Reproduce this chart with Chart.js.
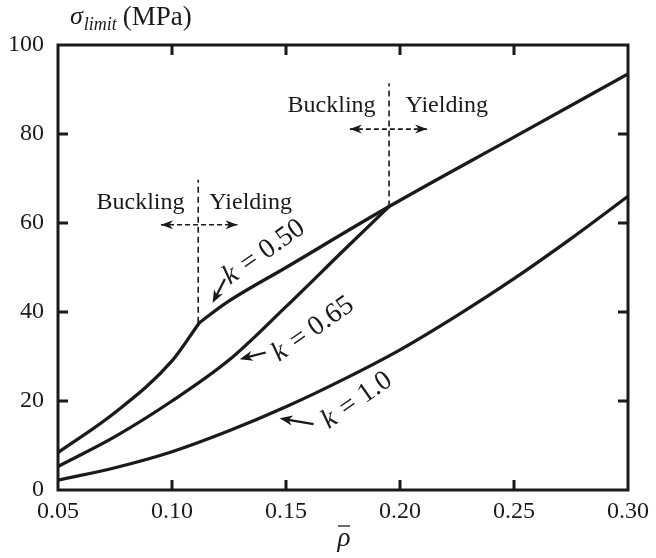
<!DOCTYPE html>
<html>
<head>
<meta charset="utf-8">
<script src="https://cdn.jsdelivr.net/npm/chart.js@4.4.1/dist/chart.umd.min.js"></script>
<style>
  html, body { margin: 0; padding: 0; background: #fff; }
  #wrap { width: 656px; height: 558px; }
</style>
</head>
<body>
<div id="wrap"><canvas id="c" width="656" height="558"></canvas></div>
<script>
// x = relative density (rho bar), y = limit stress (MPa)
var RHO_K050_BUCK = [0.05, 0.075, 0.10, 0.112];
var SIG_K050_BUCK = [8.4, 17.4, 29.0, 37.6];

var RHO_YIELD = [0.112, 0.1236, 0.15, 0.1952, 0.25, 0.30];
var SIG_YIELD = [37.6, 42.0, 50.0, 63.7, 79.3, 93.5];

var RHO_K065 = [0.05, 0.075, 0.10, 0.125, 0.15, 0.175, 0.1952];
var SIG_K065 = [5.3, 12.0, 20.0, 29.2, 41.2, 53.7, 63.7];

var RHO_K100 = [0.05, 0.075, 0.10, 0.125, 0.15, 0.175, 0.20, 0.225, 0.25, 0.275, 0.30];
var SIG_K100 = [2.2, 5.0, 8.6, 13.3, 18.7, 24.8, 31.5, 39.2, 47.5, 56.5, 66.0];

// transitions buckling -> yielding (x, y from, y to)
var TRANS_X   = [0.1115, 0.1952];
var TRANS_Y0  = [37.6, 63.7];
var TRANS_Y1  = [69.7, 91.4];
// horizontal double arrows
var HARROW_Y  = [59.6, 81.1];
var HARROW_X0 = [0.0952, 0.178];
var HARROW_X1 = [0.1287, 0.2119];
// region texts
var REGION_TXT = ["Buckling", "Yielding", "Buckling", "Yielding"];
var REGION_X   = [0.0862, 0.1345, 0.170, 0.2205];
var REGION_Y   = [64.5, 64.5, 86.3, 86.3];
// curve labels and their pointer arrows
var K_LABELS = ["0.50", "0.65", "1.0"];
var K_LAB_X  = [0.1400, 0.1615, 0.1808];
var K_LAB_Y  = [53.3, 36.0, 20.0];
var K_ARR_X0 = [0.1232, 0.1411, 0.1621];
var K_ARR_Y0 = [47.4, 30.9, 14.8];
var K_ARR_X1 = [0.1178, 0.1297, 0.1472];
var K_ARR_Y1 = [42.0, 29.4, 16.1];

var X_TICKS = [0.05, 0.10, 0.15, 0.20, 0.25, 0.30];
var Y_TICKS = [0, 20, 40, 60, 80, 100];

var INK = "#1a1a1a";
var SERIF = "'Liberation Serif', 'DejaVu Serif', serif";

function pts(xs, ys){
  var out = [];
  for (var i=0;i<xs.length;i++) out.push({ x: xs[i], y: ys[i] });
  return out;
}
function curve(xs, ys){
  return {
    data: pts(xs, ys),
    borderColor: INK, borderWidth: 3.3, pointRadius: 0,
    cubicInterpolationMode: "monotone", fill: false,
    borderCapStyle: "round", borderJoinStyle: "round"
  };
}

var datasets = [
  curve(RHO_K050_BUCK, SIG_K050_BUCK),
  curve(RHO_YIELD, SIG_YIELD),
  curve(RHO_K065, SIG_K065),
  curve(RHO_K100, SIG_K100)
];
for (var t=0;t<TRANS_X.length;t++){
  datasets.push({
    data: pts([TRANS_X[t], TRANS_X[t]], [TRANS_Y0[t], TRANS_Y1[t]]),
    borderColor: INK, borderWidth: 1.6, borderDash: [6, 4], pointRadius: 0, fill: false
  });
  datasets.push({
    data: pts([HARROW_X0[t], HARROW_X1[t]], [HARROW_Y[t], HARROW_Y[t]]),
    borderColor: INK, borderWidth: 1.6, borderDash: [5, 3], pointRadius: 0, fill: false
  });
}

function arrowHead(ctx, x0, y0, x1, y1, len, half){
  var a = Math.atan2(y1 - y0, x1 - x0);
  ctx.save();
  ctx.translate(x1, y1);
  ctx.rotate(a);
  ctx.beginPath();
  ctx.moveTo(0, 0);
  ctx.lineTo(-len, -half);
  ctx.lineTo(-len*0.7, 0);
  ctx.lineTo(-len, half);
  ctx.closePath();
  ctx.fill();
  ctx.restore();
}

var decor = {
  id: "decor",
  afterDraw: function(chart){
    var ctx = chart.ctx, xs = chart.scales.x, ys = chart.scales.y, a = chart.chartArea;
    ctx.save();
    ctx.fillStyle = INK; ctx.strokeStyle = INK;

    // frame
    ctx.lineWidth = 3;
    ctx.strokeRect(a.left, a.top, a.right - a.left, a.bottom - a.top);
    // inward ticks on all sides
    var tl = 10;
    for (var i=1;i<X_TICKS.length-1;i++){
      var px = xs.getPixelForValue(X_TICKS[i]);
      ctx.beginPath();
      ctx.moveTo(px, a.bottom); ctx.lineTo(px, a.bottom - tl);
      ctx.moveTo(px, a.top); ctx.lineTo(px, a.top + tl);
      ctx.stroke();
    }
    for (var j=1;j<Y_TICKS.length-1;j++){
      var py = ys.getPixelForValue(Y_TICKS[j]);
      ctx.beginPath();
      ctx.moveTo(a.left, py); ctx.lineTo(a.left + tl, py);
      ctx.moveTo(a.right, py); ctx.lineTo(a.right - tl, py);
      ctx.stroke();
    }

    // heads of the dashed double arrows
    for (var h=0;h<HARROW_Y.length;h++){
      var hy = ys.getPixelForValue(HARROW_Y[h]);
      var hx0 = xs.getPixelForValue(HARROW_X0[h]);
      var hx1 = xs.getPixelForValue(HARROW_X1[h]);
      arrowHead(ctx, hx1, hy, hx0, hy, 12, 4.5);
      arrowHead(ctx, hx0, hy, hx1, hy, 12, 4.5);
    }

    // region texts
    ctx.font = "24px " + SERIF;
    ctx.textAlign = "center"; ctx.textBaseline = "middle";
    for (var r=0;r<REGION_TXT.length;r++){
      ctx.fillText(REGION_TXT[r], xs.getPixelForValue(REGION_X[r]), ys.getPixelForValue(REGION_Y[r]));
    }

    // curve labels (rotated) and pointer arrows
    for (var k=0;k<K_LABELS.length;k++){
      var ax0 = xs.getPixelForValue(K_ARR_X0[k]), ay0 = ys.getPixelForValue(K_ARR_Y0[k]);
      var ax1 = xs.getPixelForValue(K_ARR_X1[k]), ay1 = ys.getPixelForValue(K_ARR_Y1[k]);
      ctx.lineWidth = 2.2;
      ctx.beginPath(); ctx.moveTo(ax0, ay0);
      var ang = Math.atan2(ay1 - ay0, ax1 - ax0);
      ctx.lineTo(ax1 - 6*Math.cos(ang), ay1 - 6*Math.sin(ang));
      ctx.stroke();
      arrowHead(ctx, ax0, ay0, ax1, ay1, 13, 5);

      ctx.save();
      ctx.translate(xs.getPixelForValue(K_LAB_X[k]), ys.getPixelForValue(K_LAB_Y[k]));
      ctx.rotate(-35 * Math.PI / 180);
      ctx.textBaseline = "middle";
      var partK = "k", partEq = " = " + K_LABELS[k];
      ctx.font = "italic 28px " + SERIF;
      var wK = ctx.measureText(partK).width;
      ctx.font = "28px " + SERIF;
      var wE = ctx.measureText(partEq).width;
      var x0 = -(wK + wE) / 2;
      ctx.textAlign = "left";
      ctx.font = "italic 28px " + SERIF;
      ctx.fillText(partK, x0, 0);
      ctx.font = "28px " + SERIF;
      ctx.fillText(partEq, x0 + wK + 2, 0);
      ctx.restore();
    }

    // y axis title: sigma_limit (MPa)
    ctx.textAlign = "left"; ctx.textBaseline = "alphabetic";
    ctx.font = "italic 26px " + SERIF;
    ctx.fillText("σ", 70, 24);
    var ws = ctx.measureText("σ").width;
    ctx.font = "italic 18px " + SERIF;
    ctx.fillText("limit", 70 + ws + 1, 30);
    var wl = ctx.measureText("limit").width;
    ctx.font = "27px " + SERIF;
    ctx.fillText("(MPa)", 70 + ws + wl + 7, 25);

    // x axis title: rho bar
    var cx = (a.left + a.right) / 2;
    ctx.font = "italic 27px " + SERIF;
    ctx.textAlign = "center";
    ctx.fillText("ρ", cx + 1, 546);
    ctx.lineWidth = 1.3;
    ctx.beginPath(); ctx.moveTo(cx - 5, 526); ctx.lineTo(cx + 7, 526); ctx.stroke();

    ctx.restore();
  }
};

new Chart(document.getElementById("c").getContext("2d"), {
  type: "line",
  data: { datasets: datasets },
  options: {
    responsive: false,
    animation: false,
    events: [],
    layout: { padding: { top: 45, right: 25, left: 0, bottom: 0 } },
    plugins: { legend: { display: false }, tooltip: { enabled: false } },
    scales: {
      x: {
        type: "linear", min: 0.05, max: 0.30,
        afterBuildTicks: function(s){ s.ticks = X_TICKS.map(function(v){ return { value: v }; }); },
        afterFit: function(s){ s.height = 68; },
        ticks: {
          color: INK, padding: 7, maxRotation: 0,
          font: { family: SERIF, size: 24 },
          callback: function(v){ return Number(v).toFixed(2); }
        },
        grid: { display: false, drawTicks: false },
        border: { display: false }
      },
      y: {
        min: 0, max: 100,
        afterBuildTicks: function(s){ s.ticks = Y_TICKS.map(function(v){ return { value: v }; }); },
        afterFit: function(s){ s.width = 58; },
        ticks: {
          color: INK, padding: 14,
          font: { family: SERIF, size: 24 }
        },
        grid: { display: false, drawTicks: false },
        border: { display: false }
      }
    }
  },
  plugins: [decor]
});
</script>
</body>
</html>
